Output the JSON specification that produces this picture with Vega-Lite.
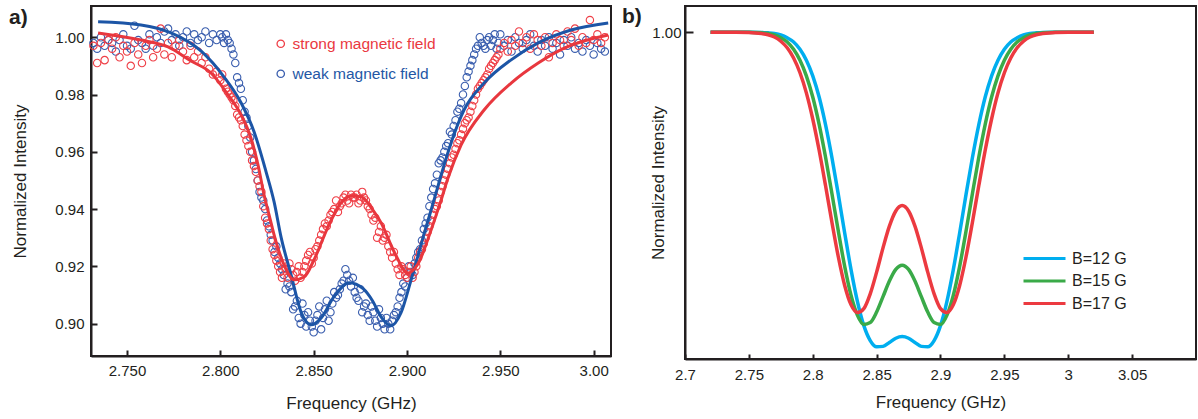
{
"$schema":"https://vega.github.io/schema/vega-lite/v6.json",
"background":"white",
"padding":{"left":8,"top":5,"right":0,"bottom":0},
"spacing":4,
"resolve":{"scale":{"color":"independent","stroke":"independent"},"legend":{"color":"independent"}},
"config":{
"font":"Liberation Sans",
"view":{"stroke":"#231f20","strokeWidth":2},
"axis":{"domainColor":"#231f20","domainWidth":2,"tickColor":"#231f20","tickWidth":2,"grid":false,"labelColor":"#231f20","titleColor":"#231f20","labelFont":"Liberation Sans","titleFont":"Liberation Sans","labelFontSize":15,"titleFontSize":17,"titleFontWeight":"normal","labelFlush":false}
},
"datasets":{
"scatterA":[
{"s":"weak magnetic field","f":2.732,"i":0.998},{"s":"weak magnetic field","f":2.734,"i":0.996},{"s":"weak magnetic field","f":2.736,"i":1.000},{"s":"weak magnetic field","f":2.738,"i":0.997},{"s":"weak magnetic field","f":2.740,"i":0.999},{"s":"weak magnetic field","f":2.742,"i":0.998},{"s":"weak magnetic field","f":2.744,"i":0.995},{"s":"weak magnetic field","f":2.746,"i":0.999},{"s":"weak magnetic field","f":2.748,"i":1.001},{"s":"weak magnetic field","f":2.750,"i":0.997},{"s":"weak magnetic field","f":2.752,"i":0.996},{"s":"weak magnetic field","f":2.754,"i":1.004},{"s":"weak magnetic field","f":2.756,"i":0.999},{"s":"weak magnetic field","f":2.758,"i":0.998},{"s":"weak magnetic field","f":2.760,"i":0.996},{"s":"weak magnetic field","f":2.762,"i":1.001},{"s":"weak magnetic field","f":2.764,"i":0.997},{"s":"weak magnetic field","f":2.766,"i":1.000},{"s":"weak magnetic field","f":2.768,"i":0.998},{"s":"weak magnetic field","f":2.770,"i":1.002},{"s":"weak magnetic field","f":2.772,"i":1.003},{"s":"weak magnetic field","f":2.774,"i":0.999},{"s":"weak magnetic field","f":2.776,"i":1.001},{"s":"weak magnetic field","f":2.778,"i":0.997},{"s":"weak magnetic field","f":2.780,"i":1.000},{"s":"weak magnetic field","f":2.782,"i":1.002},{"s":"weak magnetic field","f":2.784,"i":0.998},{"s":"weak magnetic field","f":2.786,"i":1.001},{"s":"weak magnetic field","f":2.788,"i":0.999},{"s":"weak magnetic field","f":2.790,"i":1.000},{"s":"weak magnetic field","f":2.792,"i":1.002},{"s":"weak magnetic field","f":2.794,"i":0.998},{"s":"weak magnetic field","f":2.796,"i":1.001},{"s":"weak magnetic field","f":2.798,"i":0.999},{"s":"weak magnetic field","f":2.800,"i":1.001},{"s":"weak magnetic field","f":2.802,"i":0.998},{"s":"weak magnetic field","f":2.804,"i":0.999},{"s":"weak magnetic field","f":2.806,"i":0.996},{"s":"weak magnetic field","f":2.808,"i":0.991},{"s":"weak magnetic field","f":2.810,"i":0.984},{"s":"weak magnetic field","f":2.812,"i":0.978},{"s":"weak magnetic field","f":2.814,"i":0.972},{"s":"weak magnetic field","f":2.816,"i":0.965},{"s":"weak magnetic field","f":2.818,"i":0.957},{"s":"weak magnetic field","f":2.820,"i":0.950},{"s":"weak magnetic field","f":2.822,"i":0.944},{"s":"weak magnetic field","f":2.824,"i":0.940},{"s":"weak magnetic field","f":2.826,"i":0.934},{"s":"weak magnetic field","f":2.828,"i":0.929},{"s":"weak magnetic field","f":2.830,"i":0.927},{"s":"weak magnetic field","f":2.832,"i":0.921},{"s":"weak magnetic field","f":2.834,"i":0.917},{"s":"weak magnetic field","f":2.836,"i":0.914},{"s":"weak magnetic field","f":2.838,"i":0.911},{"s":"weak magnetic field","f":2.840,"i":0.906},{"s":"weak magnetic field","f":2.842,"i":0.902},{"s":"weak magnetic field","f":2.844,"i":0.907},{"s":"weak magnetic field","f":2.846,"i":0.899},{"s":"weak magnetic field","f":2.848,"i":0.901},{"s":"weak magnetic field","f":2.850,"i":0.897},{"s":"weak magnetic field","f":2.852,"i":0.903},{"s":"weak magnetic field","f":2.854,"i":0.898},{"s":"weak magnetic field","f":2.856,"i":0.905},{"s":"weak magnetic field","f":2.858,"i":0.901},{"s":"weak magnetic field","f":2.860,"i":0.907},{"s":"weak magnetic field","f":2.862,"i":0.909},{"s":"weak magnetic field","f":2.864,"i":0.912},{"s":"weak magnetic field","f":2.866,"i":0.915},{"s":"weak magnetic field","f":2.868,"i":0.917},{"s":"weak magnetic field","f":2.870,"i":0.913},{"s":"weak magnetic field","f":2.872,"i":0.911},{"s":"weak magnetic field","f":2.874,"i":0.908},{"s":"weak magnetic field","f":2.876,"i":0.904},{"s":"weak magnetic field","f":2.878,"i":0.907},{"s":"weak magnetic field","f":2.880,"i":0.901},{"s":"weak magnetic field","f":2.882,"i":0.904},{"s":"weak magnetic field","f":2.884,"i":0.899},{"s":"weak magnetic field","f":2.886,"i":0.902},{"s":"weak magnetic field","f":2.888,"i":0.898},{"s":"weak magnetic field","f":2.890,"i":0.900},{"s":"weak magnetic field","f":2.892,"i":0.901},{"s":"weak magnetic field","f":2.894,"i":0.904},{"s":"weak magnetic field","f":2.896,"i":0.909},{"s":"weak magnetic field","f":2.898,"i":0.914},{"s":"weak magnetic field","f":2.900,"i":0.916},{"s":"weak magnetic field","f":2.902,"i":0.918},{"s":"weak magnetic field","f":2.904,"i":0.921},{"s":"weak magnetic field","f":2.906,"i":0.925},{"s":"weak magnetic field","f":2.908,"i":0.929},{"s":"weak magnetic field","f":2.910,"i":0.935},{"s":"weak magnetic field","f":2.912,"i":0.941},{"s":"weak magnetic field","f":2.914,"i":0.947},{"s":"weak magnetic field","f":2.916,"i":0.952},{"s":"weak magnetic field","f":2.918,"i":0.957},{"s":"weak magnetic field","f":2.920,"i":0.960},{"s":"weak magnetic field","f":2.922,"i":0.963},{"s":"weak magnetic field","f":2.924,"i":0.966},{"s":"weak magnetic field","f":2.926,"i":0.971},{"s":"weak magnetic field","f":2.928,"i":0.975},{"s":"weak magnetic field","f":2.930,"i":0.980},{"s":"weak magnetic field","f":2.932,"i":0.986},{"s":"weak magnetic field","f":2.934,"i":0.990},{"s":"weak magnetic field","f":2.936,"i":0.994},{"s":"weak magnetic field","f":2.938,"i":0.997},{"s":"weak magnetic field","f":2.940,"i":0.998},{"s":"weak magnetic field","f":2.942,"i":0.996},{"s":"weak magnetic field","f":2.944,"i":1.000},{"s":"weak magnetic field","f":2.946,"i":0.999},{"s":"weak magnetic field","f":2.948,"i":0.996},{"s":"weak magnetic field","f":2.950,"i":1.001},{"s":"weak magnetic field","f":2.952,"i":0.997},{"s":"weak magnetic field","f":2.954,"i":0.999},{"s":"weak magnetic field","f":2.956,"i":0.995},{"s":"weak magnetic field","f":2.958,"i":1.000},{"s":"weak magnetic field","f":2.960,"i":0.998},{"s":"weak magnetic field","f":2.962,"i":0.996},{"s":"weak magnetic field","f":2.964,"i":0.999},{"s":"weak magnetic field","f":2.966,"i":1.001},{"s":"weak magnetic field","f":2.968,"i":0.997},{"s":"weak magnetic field","f":2.970,"i":0.995},{"s":"weak magnetic field","f":2.972,"i":0.999},{"s":"weak magnetic field","f":2.974,"i":0.997},{"s":"weak magnetic field","f":2.976,"i":1.000},{"s":"weak magnetic field","f":2.978,"i":0.996},{"s":"weak magnetic field","f":2.980,"i":0.998},{"s":"weak magnetic field","f":2.982,"i":0.994},{"s":"weak magnetic field","f":2.984,"i":0.999},{"s":"weak magnetic field","f":2.986,"i":0.997},{"s":"weak magnetic field","f":2.988,"i":1.000},{"s":"weak magnetic field","f":2.990,"i":0.996},{"s":"weak magnetic field","f":2.992,"i":0.998},{"s":"weak magnetic field","f":2.994,"i":0.995},{"s":"weak magnetic field","f":2.996,"i":0.999},{"s":"weak magnetic field","f":2.998,"i":0.997},{"s":"weak magnetic field","f":3.000,"i":0.994},{"s":"weak magnetic field","f":3.002,"i":0.998},{"s":"weak magnetic field","f":3.004,"i":0.996},{"s":"weak magnetic field","f":3.006,"i":0.995},
{"s":"weak magnetic field","f":2.801,"i":1.000},{"s":"weak magnetic field","f":2.803,"i":1.001},{"s":"weak magnetic field","f":2.805,"i":0.998},{"s":"weak magnetic field","f":2.807,"i":0.994},{"s":"weak magnetic field","f":2.809,"i":0.986},{"s":"weak magnetic field","f":2.811,"i":0.982},{"s":"weak magnetic field","f":2.813,"i":0.974},{"s":"weak magnetic field","f":2.815,"i":0.969},{"s":"weak magnetic field","f":2.817,"i":0.960},{"s":"weak magnetic field","f":2.819,"i":0.954},{"s":"weak magnetic field","f":2.821,"i":0.946},{"s":"weak magnetic field","f":2.823,"i":0.943},{"s":"weak magnetic field","f":2.825,"i":0.936},{"s":"weak magnetic field","f":2.827,"i":0.931},{"s":"weak magnetic field","f":2.829,"i":0.925},{"s":"weak magnetic field","f":2.831,"i":0.923},{"s":"weak magnetic field","f":2.833,"i":0.919},{"s":"weak magnetic field","f":2.835,"i":0.912},{"s":"weak magnetic field","f":2.837,"i":0.913},{"s":"weak magnetic field","f":2.839,"i":0.905},{"s":"weak magnetic field","f":2.841,"i":0.908},{"s":"weak magnetic field","f":2.843,"i":0.900},{"s":"weak magnetic field","f":2.845,"i":0.903},{"s":"weak magnetic field","f":2.847,"i":0.904},{"s":"weak magnetic field","f":2.849,"i":0.899},{"s":"weak magnetic field","f":2.851,"i":0.901},{"s":"weak magnetic field","f":2.853,"i":0.906},{"s":"weak magnetic field","f":2.855,"i":0.902},{"s":"weak magnetic field","f":2.857,"i":0.908},{"s":"weak magnetic field","f":2.859,"i":0.904},{"s":"weak magnetic field","f":2.861,"i":0.911},{"s":"weak magnetic field","f":2.863,"i":0.910},{"s":"weak magnetic field","f":2.865,"i":0.914},{"s":"weak magnetic field","f":2.867,"i":0.919},{"s":"weak magnetic field","f":2.869,"i":0.915},{"s":"weak magnetic field","f":2.871,"i":0.916},{"s":"weak magnetic field","f":2.873,"i":0.909},{"s":"weak magnetic field","f":2.875,"i":0.912},{"s":"weak magnetic field","f":2.877,"i":0.906},{"s":"weak magnetic field","f":2.879,"i":0.903},{"s":"weak magnetic field","f":2.881,"i":0.906},{"s":"weak magnetic field","f":2.883,"i":0.901},{"s":"weak magnetic field","f":2.885,"i":0.905},{"s":"weak magnetic field","f":2.887,"i":0.900},{"s":"weak magnetic field","f":2.889,"i":0.902},{"s":"weak magnetic field","f":2.891,"i":0.898},{"s":"weak magnetic field","f":2.893,"i":0.903},{"s":"weak magnetic field","f":2.895,"i":0.906},{"s":"weak magnetic field","f":2.897,"i":0.911},{"s":"weak magnetic field","f":2.899,"i":0.913},{"s":"weak magnetic field","f":2.901,"i":0.920},{"s":"weak magnetic field","f":2.903,"i":0.917},{"s":"weak magnetic field","f":2.905,"i":0.923},{"s":"weak magnetic field","f":2.907,"i":0.926},{"s":"weak magnetic field","f":2.909,"i":0.933},{"s":"weak magnetic field","f":2.911,"i":0.937},{"s":"weak magnetic field","f":2.913,"i":0.944},{"s":"weak magnetic field","f":2.915,"i":0.949},{"s":"weak magnetic field","f":2.917,"i":0.956},{"s":"weak magnetic field","f":2.919,"i":0.958},{"s":"weak magnetic field","f":2.921,"i":0.962},{"s":"weak magnetic field","f":2.923,"i":0.967},{"s":"weak magnetic field","f":2.925,"i":0.969},{"s":"weak magnetic field","f":2.927,"i":0.974},{"s":"weak magnetic field","f":2.929,"i":0.977},{"s":"weak magnetic field","f":2.931,"i":0.983},{"s":"weak magnetic field","f":2.933,"i":0.988},{"s":"weak magnetic field","f":2.935,"i":0.992},{"s":"weak magnetic field","f":2.937,"i":0.996},{"s":"weak magnetic field","f":2.939,"i":1.000},{"s":"weak magnetic field","f":2.941,"i":0.997},{"s":"weak magnetic field","f":2.943,"i":0.999},{"s":"weak magnetic field","f":2.945,"i":0.997},{"s":"weak magnetic field","f":2.947,"i":1.001},{"s":"weak magnetic field","f":2.949,"i":0.998},
{"s":"strong magnetic field","f":2.732,"i":0.997},{"s":"strong magnetic field","f":2.734,"i":0.991},{"s":"strong magnetic field","f":2.736,"i":0.998},{"s":"strong magnetic field","f":2.738,"i":0.992},{"s":"strong magnetic field","f":2.740,"i":0.999},{"s":"strong magnetic field","f":2.742,"i":0.996},{"s":"strong magnetic field","f":2.744,"i":1.000},{"s":"strong magnetic field","f":2.746,"i":0.993},{"s":"strong magnetic field","f":2.748,"i":0.997},{"s":"strong magnetic field","f":2.750,"i":0.995},{"s":"strong magnetic field","f":2.752,"i":0.990},{"s":"strong magnetic field","f":2.754,"i":0.998},{"s":"strong magnetic field","f":2.756,"i":0.994},{"s":"strong magnetic field","f":2.758,"i":0.991},{"s":"strong magnetic field","f":2.760,"i":0.997},{"s":"strong magnetic field","f":2.762,"i":0.999},{"s":"strong magnetic field","f":2.764,"i":0.993},{"s":"strong magnetic field","f":2.766,"i":0.996},{"s":"strong magnetic field","f":2.768,"i":1.003},{"s":"strong magnetic field","f":2.770,"i":0.994},{"s":"strong magnetic field","f":2.772,"i":0.998},{"s":"strong magnetic field","f":2.774,"i":0.993},{"s":"strong magnetic field","f":2.776,"i":0.997},{"s":"strong magnetic field","f":2.778,"i":0.999},{"s":"strong magnetic field","f":2.780,"i":0.995},{"s":"strong magnetic field","f":2.782,"i":0.992},{"s":"strong magnetic field","f":2.784,"i":0.997},{"s":"strong magnetic field","f":2.786,"i":0.993},{"s":"strong magnetic field","f":2.788,"i":0.995},{"s":"strong magnetic field","f":2.790,"i":0.991},{"s":"strong magnetic field","f":2.792,"i":0.993},{"s":"strong magnetic field","f":2.794,"i":0.989},{"s":"strong magnetic field","f":2.796,"i":0.987},{"s":"strong magnetic field","f":2.798,"i":0.988},{"s":"strong magnetic field","f":2.800,"i":0.985},{"s":"strong magnetic field","f":2.802,"i":0.984},{"s":"strong magnetic field","f":2.804,"i":0.981},{"s":"strong magnetic field","f":2.806,"i":0.979},{"s":"strong magnetic field","f":2.808,"i":0.976},{"s":"strong magnetic field","f":2.810,"i":0.972},{"s":"strong magnetic field","f":2.812,"i":0.969},{"s":"strong magnetic field","f":2.814,"i":0.964},{"s":"strong magnetic field","f":2.816,"i":0.960},{"s":"strong magnetic field","f":2.818,"i":0.955},{"s":"strong magnetic field","f":2.820,"i":0.950},{"s":"strong magnetic field","f":2.822,"i":0.946},{"s":"strong magnetic field","f":2.824,"i":0.937},{"s":"strong magnetic field","f":2.826,"i":0.933},{"s":"strong magnetic field","f":2.828,"i":0.926},{"s":"strong magnetic field","f":2.830,"i":0.922},{"s":"strong magnetic field","f":2.832,"i":0.918},{"s":"strong magnetic field","f":2.834,"i":0.921},{"s":"strong magnetic field","f":2.836,"i":0.916},{"s":"strong magnetic field","f":2.838,"i":0.919},{"s":"strong magnetic field","f":2.840,"i":0.915},{"s":"strong magnetic field","f":2.842,"i":0.920},{"s":"strong magnetic field","f":2.844,"i":0.918},{"s":"strong magnetic field","f":2.846,"i":0.922},{"s":"strong magnetic field","f":2.848,"i":0.925},{"s":"strong magnetic field","f":2.850,"i":0.923},{"s":"strong magnetic field","f":2.852,"i":0.927},{"s":"strong magnetic field","f":2.854,"i":0.931},{"s":"strong magnetic field","f":2.856,"i":0.935},{"s":"strong magnetic field","f":2.858,"i":0.936},{"s":"strong magnetic field","f":2.860,"i":0.939},{"s":"strong magnetic field","f":2.862,"i":0.943},{"s":"strong magnetic field","f":2.864,"i":0.941},{"s":"strong magnetic field","f":2.866,"i":0.944},{"s":"strong magnetic field","f":2.868,"i":0.943},{"s":"strong magnetic field","f":2.870,"i":0.945},{"s":"strong magnetic field","f":2.872,"i":0.944},{"s":"strong magnetic field","f":2.874,"i":0.942},{"s":"strong magnetic field","f":2.876,"i":0.946},{"s":"strong magnetic field","f":2.878,"i":0.943},{"s":"strong magnetic field","f":2.880,"i":0.940},{"s":"strong magnetic field","f":2.882,"i":0.936},{"s":"strong magnetic field","f":2.884,"i":0.930},{"s":"strong magnetic field","f":2.886,"i":0.934},{"s":"strong magnetic field","f":2.888,"i":0.930},{"s":"strong magnetic field","f":2.890,"i":0.927},{"s":"strong magnetic field","f":2.892,"i":0.923},{"s":"strong magnetic field","f":2.894,"i":0.921},{"s":"strong magnetic field","f":2.896,"i":0.917},{"s":"strong magnetic field","f":2.898,"i":0.919},{"s":"strong magnetic field","f":2.900,"i":0.916},{"s":"strong magnetic field","f":2.902,"i":0.920},{"s":"strong magnetic field","f":2.904,"i":0.918},{"s":"strong magnetic field","f":2.906,"i":0.923},{"s":"strong magnetic field","f":2.908,"i":0.926},{"s":"strong magnetic field","f":2.910,"i":0.930},{"s":"strong magnetic field","f":2.912,"i":0.934},{"s":"strong magnetic field","f":2.914,"i":0.938},{"s":"strong magnetic field","f":2.916,"i":0.941},{"s":"strong magnetic field","f":2.918,"i":0.946},{"s":"strong magnetic field","f":2.920,"i":0.950},{"s":"strong magnetic field","f":2.922,"i":0.954},{"s":"strong magnetic field","f":2.924,"i":0.958},{"s":"strong magnetic field","f":2.926,"i":0.961},{"s":"strong magnetic field","f":2.928,"i":0.964},{"s":"strong magnetic field","f":2.930,"i":0.968},{"s":"strong magnetic field","f":2.932,"i":0.971},{"s":"strong magnetic field","f":2.934,"i":0.974},{"s":"strong magnetic field","f":2.936,"i":0.978},{"s":"strong magnetic field","f":2.938,"i":0.982},{"s":"strong magnetic field","f":2.940,"i":0.984},{"s":"strong magnetic field","f":2.942,"i":0.986},{"s":"strong magnetic field","f":2.944,"i":0.989},{"s":"strong magnetic field","f":2.946,"i":0.991},{"s":"strong magnetic field","f":2.948,"i":0.993},{"s":"strong magnetic field","f":2.950,"i":0.996},{"s":"strong magnetic field","f":2.952,"i":0.998},{"s":"strong magnetic field","f":2.954,"i":0.995},{"s":"strong magnetic field","f":2.956,"i":0.999},{"s":"strong magnetic field","f":2.958,"i":0.997},{"s":"strong magnetic field","f":2.960,"i":1.002},{"s":"strong magnetic field","f":2.962,"i":0.998},{"s":"strong magnetic field","f":2.964,"i":1.000},{"s":"strong magnetic field","f":2.966,"i":0.996},{"s":"strong magnetic field","f":2.968,"i":1.001},{"s":"strong magnetic field","f":2.970,"i":0.999},{"s":"strong magnetic field","f":2.972,"i":0.997},{"s":"strong magnetic field","f":2.974,"i":1.000},{"s":"strong magnetic field","f":2.976,"i":0.993},{"s":"strong magnetic field","f":2.978,"i":0.998},{"s":"strong magnetic field","f":2.980,"i":1.001},{"s":"strong magnetic field","f":2.982,"i":0.999},{"s":"strong magnetic field","f":2.984,"i":0.997},{"s":"strong magnetic field","f":2.986,"i":1.002},{"s":"strong magnetic field","f":2.988,"i":0.999},{"s":"strong magnetic field","f":2.990,"i":1.003},{"s":"strong magnetic field","f":2.992,"i":0.997},{"s":"strong magnetic field","f":2.994,"i":1.000},{"s":"strong magnetic field","f":2.996,"i":0.998},{"s":"strong magnetic field","f":2.998,"i":1.006},{"s":"strong magnetic field","f":3.000,"i":0.999},{"s":"strong magnetic field","f":3.002,"i":1.001},{"s":"strong magnetic field","f":3.004,"i":0.998},{"s":"strong magnetic field","f":3.006,"i":1.000},
{"s":"strong magnetic field","f":2.801,"i":0.987},{"s":"strong magnetic field","f":2.803,"i":0.982},{"s":"strong magnetic field","f":2.805,"i":0.980},{"s":"strong magnetic field","f":2.807,"i":0.978},{"s":"strong magnetic field","f":2.809,"i":0.973},{"s":"strong magnetic field","f":2.811,"i":0.971},{"s":"strong magnetic field","f":2.813,"i":0.966},{"s":"strong magnetic field","f":2.815,"i":0.962},{"s":"strong magnetic field","f":2.817,"i":0.957},{"s":"strong magnetic field","f":2.819,"i":0.953},{"s":"strong magnetic field","f":2.821,"i":0.948},{"s":"strong magnetic field","f":2.823,"i":0.941},{"s":"strong magnetic field","f":2.825,"i":0.935},{"s":"strong magnetic field","f":2.827,"i":0.929},{"s":"strong magnetic field","f":2.829,"i":0.924},{"s":"strong magnetic field","f":2.831,"i":0.920},{"s":"strong magnetic field","f":2.833,"i":0.916},{"s":"strong magnetic field","f":2.835,"i":0.919},{"s":"strong magnetic field","f":2.837,"i":0.921},{"s":"strong magnetic field","f":2.839,"i":0.917},{"s":"strong magnetic field","f":2.841,"i":0.918},{"s":"strong magnetic field","f":2.843,"i":0.916},{"s":"strong magnetic field","f":2.845,"i":0.920},{"s":"strong magnetic field","f":2.847,"i":0.924},{"s":"strong magnetic field","f":2.849,"i":0.921},{"s":"strong magnetic field","f":2.851,"i":0.926},{"s":"strong magnetic field","f":2.853,"i":0.929},{"s":"strong magnetic field","f":2.855,"i":0.933},{"s":"strong magnetic field","f":2.857,"i":0.934},{"s":"strong magnetic field","f":2.859,"i":0.938},{"s":"strong magnetic field","f":2.861,"i":0.940},{"s":"strong magnetic field","f":2.863,"i":0.939},{"s":"strong magnetic field","f":2.865,"i":0.942},{"s":"strong magnetic field","f":2.867,"i":0.945},{"s":"strong magnetic field","f":2.869,"i":0.942},{"s":"strong magnetic field","f":2.871,"i":0.944},{"s":"strong magnetic field","f":2.873,"i":0.945},{"s":"strong magnetic field","f":2.875,"i":0.943},{"s":"strong magnetic field","f":2.877,"i":0.944},{"s":"strong magnetic field","f":2.879,"i":0.941},{"s":"strong magnetic field","f":2.881,"i":0.938},{"s":"strong magnetic field","f":2.883,"i":0.937},{"s":"strong magnetic field","f":2.885,"i":0.932},{"s":"strong magnetic field","f":2.887,"i":0.929},{"s":"strong magnetic field","f":2.889,"i":0.931},{"s":"strong magnetic field","f":2.891,"i":0.925},{"s":"strong magnetic field","f":2.893,"i":0.925},{"s":"strong magnetic field","f":2.895,"i":0.919},{"s":"strong magnetic field","f":2.897,"i":0.920},{"s":"strong magnetic field","f":2.899,"i":0.917},{"s":"strong magnetic field","f":2.901,"i":0.918},{"s":"strong magnetic field","f":2.903,"i":0.916},{"s":"strong magnetic field","f":2.905,"i":0.920},{"s":"strong magnetic field","f":2.907,"i":0.925},{"s":"strong magnetic field","f":2.909,"i":0.928},{"s":"strong magnetic field","f":2.911,"i":0.932},{"s":"strong magnetic field","f":2.913,"i":0.936},{"s":"strong magnetic field","f":2.915,"i":0.940},{"s":"strong magnetic field","f":2.917,"i":0.943},{"s":"strong magnetic field","f":2.919,"i":0.948},{"s":"strong magnetic field","f":2.921,"i":0.952},{"s":"strong magnetic field","f":2.923,"i":0.956},{"s":"strong magnetic field","f":2.925,"i":0.959},{"s":"strong magnetic field","f":2.927,"i":0.963},{"s":"strong magnetic field","f":2.929,"i":0.966},{"s":"strong magnetic field","f":2.931,"i":0.970},{"s":"strong magnetic field","f":2.933,"i":0.972},{"s":"strong magnetic field","f":2.935,"i":0.976},{"s":"strong magnetic field","f":2.937,"i":0.980},{"s":"strong magnetic field","f":2.939,"i":0.983},{"s":"strong magnetic field","f":2.941,"i":0.985},{"s":"strong magnetic field","f":2.943,"i":0.987},{"s":"strong magnetic field","f":2.945,"i":0.990},{"s":"strong magnetic field","f":2.947,"i":0.992},{"s":"strong magnetic field","f":2.949,"i":0.994}
],
"fitA":[
{"s":"weak magnetic field","f":2.7345,"i":1.0054},{"s":"weak magnetic field","f":2.7575,"i":1.0043},{"s":"weak magnetic field","f":2.7736,"i":1.0015},{"s":"weak magnetic field","f":2.7896,"i":0.9952},{"s":"weak magnetic field","f":2.802,"i":0.9861},{"s":"weak magnetic field","f":2.8111,"i":0.9771},{"s":"weak magnetic field","f":2.8181,"i":0.9669},{"s":"weak magnetic field","f":2.8245,"i":0.953},{"s":"weak magnetic field","f":2.8288,"i":0.9425},{"s":"weak magnetic field","f":2.8325,"i":0.9303},{"s":"weak magnetic field","f":2.8379,"i":0.917},{"s":"weak magnetic field","f":2.8432,"i":0.9041},{"s":"weak magnetic field","f":2.8486,"i":0.8996},{"s":"weak magnetic field","f":2.854,"i":0.902},{"s":"weak magnetic field","f":2.8609,"i":0.9094},{"s":"weak magnetic field","f":2.869,"i":0.9143},{"s":"weak magnetic field","f":2.8765,"i":0.9122},{"s":"weak magnetic field","f":2.8815,"i":0.908},{"s":"weak magnetic field","f":2.8861,"i":0.9024},{"s":"weak magnetic field","f":2.8915,"i":0.8993},{"s":"weak magnetic field","f":2.8968,"i":0.9038},{"s":"weak magnetic field","f":2.9022,"i":0.9153},{"s":"weak magnetic field","f":2.9092,"i":0.9314},{"s":"weak magnetic field","f":2.9145,"i":0.9432},{"s":"weak magnetic field","f":2.9183,"i":0.9519},{"s":"weak magnetic field","f":2.9236,"i":0.9631},{"s":"weak magnetic field","f":2.9306,"i":0.9746},{"s":"weak magnetic field","f":2.9413,"i":0.984},{"s":"weak magnetic field","f":2.9558,"i":0.9921},{"s":"weak magnetic field","f":2.9703,"i":0.998},{"s":"weak magnetic field","f":2.9879,"i":1.0025},{"s":"weak magnetic field","f":3.0078,"i":1.005},
{"s":"strong magnetic field","f":2.7345,"i":1.0015},{"s":"strong magnetic field","f":2.7575,"i":0.999},{"s":"strong magnetic field","f":2.772,"i":0.9966},{"s":"strong magnetic field","f":2.7843,"i":0.9917},{"s":"strong magnetic field","f":2.795,"i":0.9875},{"s":"strong magnetic field","f":2.8041,"i":0.9799},{"s":"strong magnetic field","f":2.8111,"i":0.9729},{"s":"strong magnetic field","f":2.8164,"i":0.9648},{"s":"strong magnetic field","f":2.8202,"i":0.9554},{"s":"strong magnetic field","f":2.8234,"i":0.945},{"s":"strong magnetic field","f":2.8261,"i":0.938},{"s":"strong magnetic field","f":2.8288,"i":0.931},{"s":"strong magnetic field","f":2.8341,"i":0.9205},{"s":"strong magnetic field","f":2.8395,"i":0.9153},{"s":"strong magnetic field","f":2.8449,"i":0.9163},{"s":"strong magnetic field","f":2.8502,"i":0.9223},{"s":"strong magnetic field","f":2.8577,"i":0.9338},{"s":"strong magnetic field","f":2.8647,"i":0.9422},{"s":"strong magnetic field","f":2.87,"i":0.9446},{"s":"strong magnetic field","f":2.8754,"i":0.9443},{"s":"strong magnetic field","f":2.8824,"i":0.939},{"s":"strong magnetic field","f":2.8861,"i":0.9352},{"s":"strong magnetic field","f":2.8931,"i":0.9251},{"s":"strong magnetic field","f":2.9006,"i":0.9177},{"s":"strong magnetic field","f":2.9059,"i":0.9209},{"s":"strong magnetic field","f":2.9129,"i":0.9327},{"s":"strong magnetic field","f":2.9183,"i":0.9432},{"s":"strong magnetic field","f":2.922,"i":0.9509},{"s":"strong magnetic field","f":2.929,"i":0.9624},{"s":"strong magnetic field","f":2.9413,"i":0.9746},{"s":"strong magnetic field","f":2.9558,"i":0.984},{"s":"strong magnetic field","f":2.9703,"i":0.991},{"s":"strong magnetic field","f":2.9842,"i":0.9962},{"s":"strong magnetic field","f":3.0078,"i":1.0008}
],
"curvesB":[
{"b":"B=12 G","f":2.72,"i":1},{"b":"B=12 G","f":2.74,"i":1},{"b":"B=12 G","f":2.75,"i":1},{"b":"B=12 G","f":2.76,"i":0.9999},{"b":"B=12 G","f":2.765,"i":0.9997},{"b":"B=12 G","f":2.77,"i":0.9994},{"b":"B=12 G","f":2.775,"i":0.9988},{"b":"B=12 G","f":2.78,"i":0.9976},{"b":"B=12 G","f":2.785,"i":0.9958},{"b":"B=12 G","f":2.79,"i":0.9927},{"b":"B=12 G","f":2.795,"i":0.988},{"b":"B=12 G","f":2.8,"i":0.9813},{"b":"B=12 G","f":2.805,"i":0.9722},{"b":"B=12 G","f":2.81,"i":0.9604},{"b":"B=12 G","f":2.815,"i":0.9463},{"b":"B=12 G","f":2.82,"i":0.9305},{"b":"B=12 G","f":2.825,"i":0.914},{"b":"B=12 G","f":2.83,"i":0.8982},{"b":"B=12 G","f":2.835,"i":0.8846},{"b":"B=12 G","f":2.84,"i":0.8743},{"b":"B=12 G","f":2.845,"i":0.8679},{"b":"B=12 G","f":2.85,"i":0.8652},{"b":"B=12 G","f":2.855,"i":0.8654},{"b":"B=12 G","f":2.86,"i":0.8671},{"b":"B=12 G","f":2.865,"i":0.8689},{"b":"B=12 G","f":2.87,"i":0.8696},{"b":"B=12 G","f":2.875,"i":0.8689},{"b":"B=12 G","f":2.88,"i":0.8671},{"b":"B=12 G","f":2.885,"i":0.8654},{"b":"B=12 G","f":2.89,"i":0.8652},{"b":"B=12 G","f":2.895,"i":0.8679},{"b":"B=12 G","f":2.9,"i":0.8743},{"b":"B=12 G","f":2.905,"i":0.8846},{"b":"B=12 G","f":2.91,"i":0.8982},{"b":"B=12 G","f":2.915,"i":0.914},{"b":"B=12 G","f":2.92,"i":0.9305},{"b":"B=12 G","f":2.925,"i":0.9463},{"b":"B=12 G","f":2.93,"i":0.9604},{"b":"B=12 G","f":2.935,"i":0.9722},{"b":"B=12 G","f":2.94,"i":0.9813},{"b":"B=12 G","f":2.945,"i":0.988},{"b":"B=12 G","f":2.95,"i":0.9927},{"b":"B=12 G","f":2.955,"i":0.9958},{"b":"B=12 G","f":2.96,"i":0.9976},{"b":"B=12 G","f":2.965,"i":0.9988},{"b":"B=12 G","f":2.97,"i":0.9994},{"b":"B=12 G","f":2.975,"i":0.9997},{"b":"B=12 G","f":2.98,"i":0.9999},{"b":"B=12 G","f":2.99,"i":1},{"b":"B=12 G","f":3.0,"i":1},{"b":"B=12 G","f":3.02,"i":1},
{"b":"B=15 G","f":2.72,"i":1},{"b":"B=15 G","f":2.74,"i":1},{"b":"B=15 G","f":2.75,"i":1},{"b":"B=15 G","f":2.76,"i":0.9997},{"b":"B=15 G","f":2.765,"i":0.9994},{"b":"B=15 G","f":2.77,"i":0.9988},{"b":"B=15 G","f":2.775,"i":0.9976},{"b":"B=15 G","f":2.78,"i":0.9958},{"b":"B=15 G","f":2.785,"i":0.9927},{"b":"B=15 G","f":2.79,"i":0.988},{"b":"B=15 G","f":2.795,"i":0.9813},{"b":"B=15 G","f":2.8,"i":0.9722},{"b":"B=15 G","f":2.805,"i":0.9605},{"b":"B=15 G","f":2.81,"i":0.9465},{"b":"B=15 G","f":2.815,"i":0.9309},{"b":"B=15 G","f":2.82,"i":0.9148},{"b":"B=15 G","f":2.825,"i":0.8997},{"b":"B=15 G","f":2.83,"i":0.8872},{"b":"B=15 G","f":2.835,"i":0.8787},{"b":"B=15 G","f":2.84,"i":0.8748},{"b":"B=15 G","f":2.845,"i":0.8756},{"b":"B=15 G","f":2.85,"i":0.8801},{"b":"B=15 G","f":2.855,"i":0.8867},{"b":"B=15 G","f":2.86,"i":0.8934},{"b":"B=15 G","f":2.865,"i":0.8984},{"b":"B=15 G","f":2.87,"i":0.9002},{"b":"B=15 G","f":2.875,"i":0.8984},{"b":"B=15 G","f":2.88,"i":0.8934},{"b":"B=15 G","f":2.885,"i":0.8867},{"b":"B=15 G","f":2.89,"i":0.8801},{"b":"B=15 G","f":2.895,"i":0.8756},{"b":"B=15 G","f":2.9,"i":0.8748},{"b":"B=15 G","f":2.905,"i":0.8787},{"b":"B=15 G","f":2.91,"i":0.8872},{"b":"B=15 G","f":2.915,"i":0.8997},{"b":"B=15 G","f":2.92,"i":0.9148},{"b":"B=15 G","f":2.925,"i":0.9309},{"b":"B=15 G","f":2.93,"i":0.9465},{"b":"B=15 G","f":2.935,"i":0.9605},{"b":"B=15 G","f":2.94,"i":0.9722},{"b":"B=15 G","f":2.945,"i":0.9813},{"b":"B=15 G","f":2.95,"i":0.988},{"b":"B=15 G","f":2.955,"i":0.9927},{"b":"B=15 G","f":2.96,"i":0.9958},{"b":"B=15 G","f":2.965,"i":0.9976},{"b":"B=15 G","f":2.97,"i":0.9988},{"b":"B=15 G","f":2.975,"i":0.9994},{"b":"B=15 G","f":2.98,"i":0.9997},{"b":"B=15 G","f":2.99,"i":1},{"b":"B=15 G","f":3.0,"i":1},{"b":"B=15 G","f":3.02,"i":1},
{"b":"B=17 G","f":2.72,"i":1},{"b":"B=17 G","f":2.74,"i":1},{"b":"B=17 G","f":2.75,"i":0.9999},{"b":"B=17 G","f":2.76,"i":0.9994},{"b":"B=17 G","f":2.765,"i":0.9989},{"b":"B=17 G","f":2.77,"i":0.9979},{"b":"B=17 G","f":2.775,"i":0.9961},{"b":"B=17 G","f":2.78,"i":0.9933},{"b":"B=17 G","f":2.785,"i":0.9889},{"b":"B=17 G","f":2.79,"i":0.9826},{"b":"B=17 G","f":2.795,"i":0.974},{"b":"B=17 G","f":2.8,"i":0.9628},{"b":"B=17 G","f":2.805,"i":0.9494},{"b":"B=17 G","f":2.81,"i":0.9343},{"b":"B=17 G","f":2.815,"i":0.9186},{"b":"B=17 G","f":2.82,"i":0.9038},{"b":"B=17 G","f":2.825,"i":0.8915},{"b":"B=17 G","f":2.83,"i":0.8832},{"b":"B=17 G","f":2.835,"i":0.8799},{"b":"B=17 G","f":2.84,"i":0.8816},{"b":"B=17 G","f":2.845,"i":0.8879},{"b":"B=17 G","f":2.85,"i":0.8972},{"b":"B=17 G","f":2.855,"i":0.9076},{"b":"B=17 G","f":2.86,"i":0.9169},{"b":"B=17 G","f":2.865,"i":0.9234},{"b":"B=17 G","f":2.87,"i":0.9257},{"b":"B=17 G","f":2.875,"i":0.9234},{"b":"B=17 G","f":2.88,"i":0.9169},{"b":"B=17 G","f":2.885,"i":0.9076},{"b":"B=17 G","f":2.89,"i":0.8972},{"b":"B=17 G","f":2.895,"i":0.8879},{"b":"B=17 G","f":2.9,"i":0.8816},{"b":"B=17 G","f":2.905,"i":0.8799},{"b":"B=17 G","f":2.91,"i":0.8832},{"b":"B=17 G","f":2.915,"i":0.8915},{"b":"B=17 G","f":2.92,"i":0.9038},{"b":"B=17 G","f":2.925,"i":0.9186},{"b":"B=17 G","f":2.93,"i":0.9343},{"b":"B=17 G","f":2.935,"i":0.9494},{"b":"B=17 G","f":2.94,"i":0.9628},{"b":"B=17 G","f":2.945,"i":0.974},{"b":"B=17 G","f":2.95,"i":0.9826},{"b":"B=17 G","f":2.955,"i":0.9889},{"b":"B=17 G","f":2.96,"i":0.9933},{"b":"B=17 G","f":2.965,"i":0.9961},{"b":"B=17 G","f":2.97,"i":0.9979},{"b":"B=17 G","f":2.975,"i":0.9989},{"b":"B=17 G","f":2.98,"i":0.9994},{"b":"B=17 G","f":2.99,"i":0.9999},{"b":"B=17 G","f":3.0,"i":1},{"b":"B=17 G","f":3.02,"i":1}
]
},
"hconcat":[
{
"width":520,"height":350,
"layer":[
{"data":{"name":"scatterA"},
"mark":{"type":"point","shape":"circle","filled":false,"size":55,"strokeWidth":1.1,"opacity":1},
"encoding":{
"x":{"field":"f","type":"quantitative","scale":{"domain":[2.7307,3.0093],"nice":false,"zero":false},
"axis":{"title":"Frequency (GHz)","values":[2.75,2.8,2.85,2.9,2.95,3.0],"labelExpr":"datum.value > 2.99 ? '3.00' : format(datum.value, '.3f')","tickSize":-6,"labelPadding":13.5,"titlePadding":16.5}},
"y":{"field":"i","type":"quantitative","scale":{"domain":[0.8887,1.0109],"nice":false,"zero":false},
"axis":{"title":"Normalized Intensity","values":[0.9,0.92,0.94,0.96,0.98,1.0],"format":".2f","tickSize":-6,"labelPadding":13,"titleX":-62}},
"color":{"field":"s","type":"nominal","scale":{"domain":["strong magnetic field","weak magnetic field"],"range":["#ef3f47","#3a5eae"]},
"legend":{"title":null,"orient":"none","legendX":182,"legendY":30,"symbolType":"circle","symbolSize":55,"symbolStrokeWidth":1.3,"labelFontSize":15.5,"labelFont":"Liberation Sans","labelColor":{"expr":"datum.value == 'strong magnetic field' ? '#ea393f' : '#2457a5'"},"rowPadding":13,"labelOffset":4,"padding":0}}
}},
{"data":{"name":"fitA"},
"mark":{"type":"line","strokeWidth":3,"interpolate":"monotone"},
"encoding":{
"x":{"field":"f","type":"quantitative","scale":{"domain":[2.7307,3.0093],"nice":false,"zero":false},
"axis":{"title":"Frequency (GHz)","values":[2.75,2.8,2.85,2.9,2.95,3.0],"labelExpr":"datum.value > 2.99 ? '3.00' : format(datum.value, '.3f')","tickSize":-6,"labelPadding":13.5,"titlePadding":16.5}},
"y":{"field":"i","type":"quantitative","scale":{"domain":[0.8887,1.0109],"nice":false,"zero":false},
"axis":{"title":"Normalized Intensity","values":[0.9,0.92,0.94,0.96,0.98,1.0],"format":".2f","tickSize":-6,"labelPadding":13,"titleX":-62}},
"stroke":{"field":"s","type":"nominal","scale":{"domain":["strong magnetic field","weak magnetic field"],"range":["#e8373e","#1c55a6"]},"legend":null}
}},
{"data":{"values":[{"t":"a)"}]},
"mark":{"type":"text","align":"left","baseline":"alphabetic","fontSize":21,"fontWeight":"bold","font":"Liberation Sans","color":"#231f20"},
"encoding":{
"x":{"datum":2.6868,"type":"quantitative","scale":{"domain":[2.7307,3.0093],"nice":false,"zero":false},
"axis":{"title":"Frequency (GHz)","values":[2.75,2.8,2.85,2.9,2.95,3.0],"labelExpr":"datum.value > 2.99 ? '3.00' : format(datum.value, '.3f')","tickSize":-6,"labelPadding":13.5,"titlePadding":16.5}},
"y":{"datum":1.0046,"type":"quantitative","scale":{"domain":[0.8887,1.0109],"nice":false,"zero":false},
"axis":{"title":"Normalized Intensity","values":[0.9,0.92,0.94,0.96,0.98,1.0],"format":".2f","tickSize":-6,"labelPadding":13,"titleX":-62}},
"text":{"field":"t"}}}
]
},
{
"width":511,"height":353,
"layer":[
{"data":{"name":"curvesB"},
"mark":{"type":"line","strokeWidth":3.5,"interpolate":"monotone"},
"encoding":{
"x":{"field":"f","type":"quantitative","scale":{"domain":[2.7,3.1],"nice":false,"zero":false},
"axis":{"title":"Frequency (GHz)","values":[2.7,2.75,2.8,2.85,2.9,2.95,3.0,3.05],"format":"~g","tickSize":-5,"labelPadding":13,"titlePadding":12.5}},
"y":{"field":"i","type":"quantitative","scale":{"domain":[0.86,1.0112],"nice":false,"zero":false},
"axis":{"title":"Normalized Intensity","values":[1.0],"format":".2f","tickSize":-8,"labelPadding":12,"titleX":-17.5}},
"color":{"field":"b","type":"nominal","scale":{"domain":["B=12 G","B=15 G","B=17 G"],"range":["#00aeef","#3aaa48","#ec3a40"]},
"legend":{"title":null,"orient":"none","legendX":347.5,"legendY":240.5,"symbolType":"M-2,0H2","symbolSize":441,"symbolStrokeWidth":3,"labelFontSize":16,"labelFont":"Liberation Sans","labelColor":"#231f20","rowPadding":2.5,"labelOffset":15.5,"padding":0}}
}},
{"data":{"values":[{"t":"b)"}]},
"mark":{"type":"text","align":"left","baseline":"alphabetic","fontSize":21,"fontWeight":"bold","font":"Liberation Sans","color":"#231f20"},
"encoding":{
"x":{"datum":2.6506,"type":"quantitative","scale":{"domain":[2.7,3.1],"nice":false,"zero":false},
"axis":{"title":"Frequency (GHz)","values":[2.7,2.75,2.8,2.85,2.9,2.95,3.0,3.05],"format":"~g","tickSize":-5,"labelPadding":13,"titlePadding":12.5}},
"y":{"datum":1.0039,"type":"quantitative","scale":{"domain":[0.86,1.0112],"nice":false,"zero":false},
"axis":{"title":"Normalized Intensity","values":[1.0],"format":".2f","tickSize":-8,"labelPadding":12,"titleX":-17.5}},
"text":{"field":"t"}}}
]
}
]
}
